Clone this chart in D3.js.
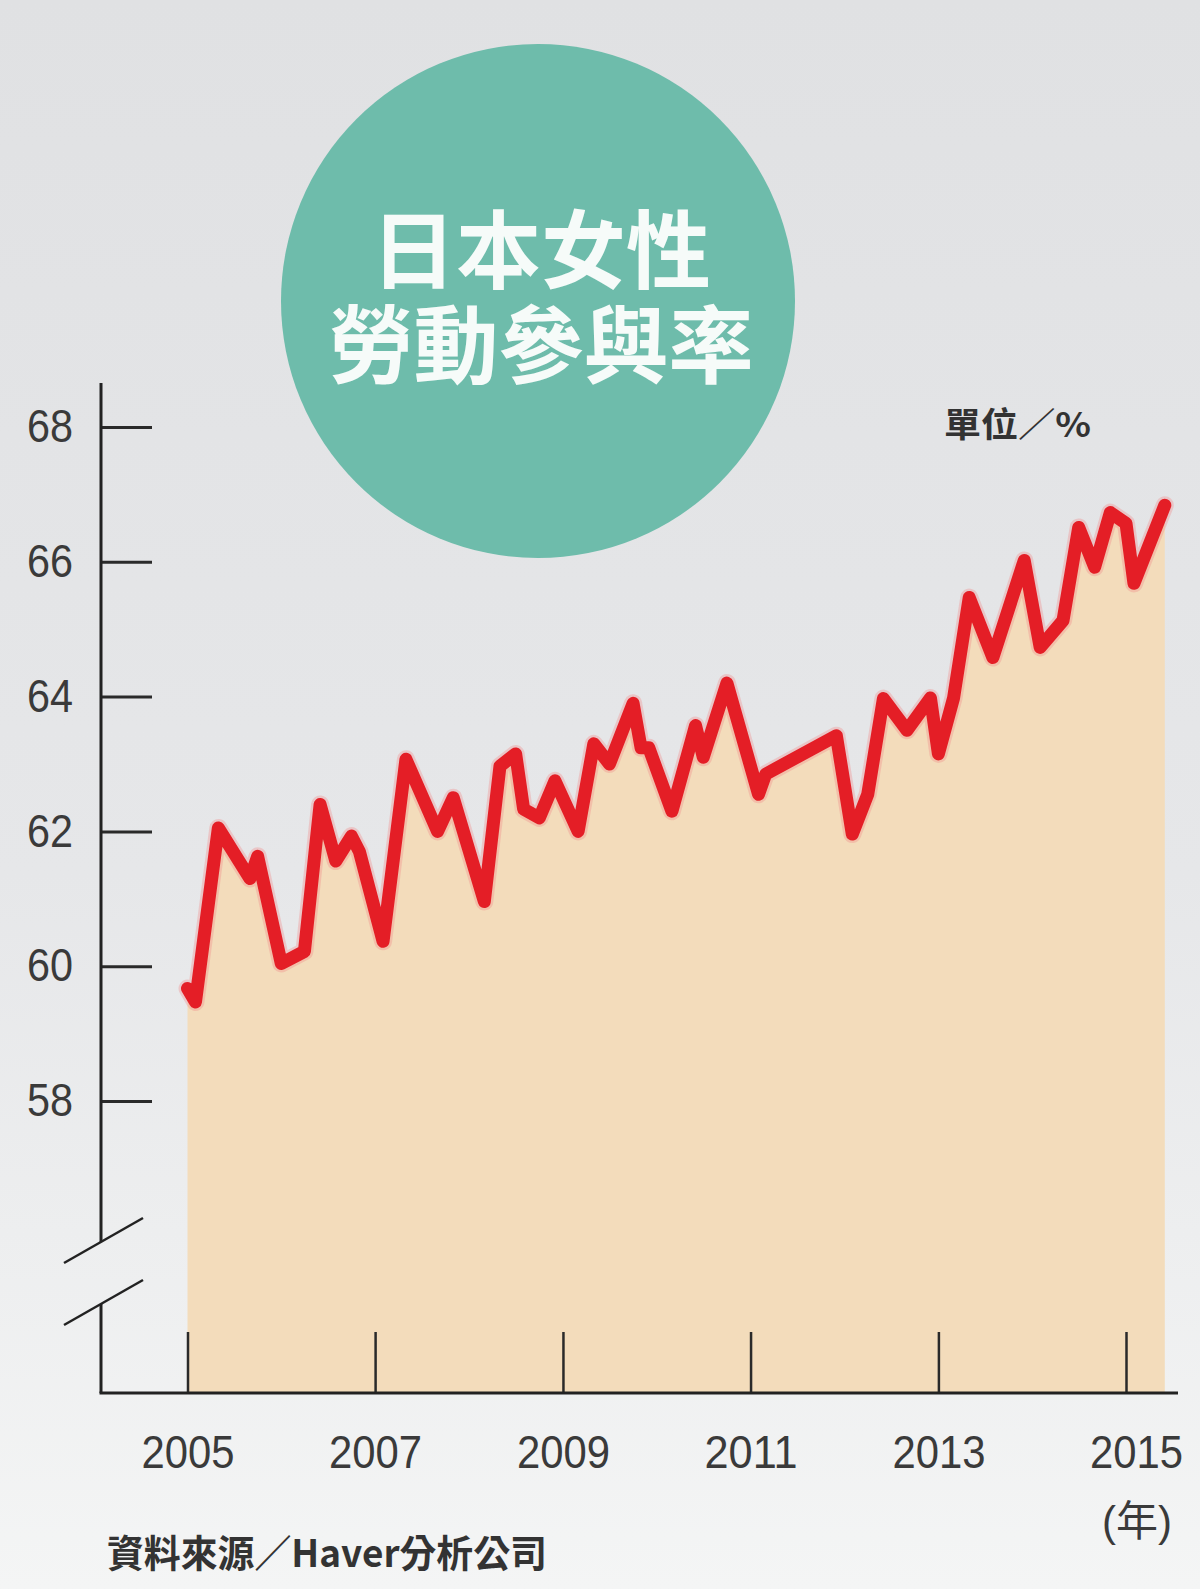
<!DOCTYPE html>
<html>
<head>
<meta charset="utf-8">
<script src="https://cdn.jsdelivr.net/npm/d3@7"></script>
<style>
  html, body { margin: 0; padding: 0; }
  body { width: 1200px; height: 1589px; overflow: hidden; }
</style>
</head>
<body>
<svg id="chart"></svg>
<script>
// Japan, female labour participation rate (%)
const months = [
  '2005-01', '2005-02', '2005-05', '2005-09', '2005-10', '2006-01', '2006-04', '2006-06',
  '2006-08', '2006-10', '2006-11', '2007-02', '2007-05', '2007-09', '2007-11', '2008-03',
  '2008-05', '2008-07', '2008-08', '2008-10', '2008-12', '2009-03', '2009-05', '2009-07',
  '2009-10', '2009-11', '2009-12', '2010-03', '2010-06', '2010-07', '2010-10', '2011-02',
  '2011-03', '2011-12', '2012-02', '2012-04', '2012-06', '2012-09', '2012-12', '2013-01',
  '2013-03', '2013-05', '2013-08', '2013-12', '2014-02', '2014-05', '2014-07', '2014-09',
  '2014-11', '2015-01', '2015-02', '2015-06'
];
const rates = [
  59.67, 59.47, 62.05, 61.30, 61.63, 60.04, 60.22, 62.40,
  61.56, 61.93, 61.70, 60.37, 63.07, 62.00, 62.50, 60.96,
  62.97, 63.15, 62.33, 62.20, 62.75, 62.00, 63.30, 63.00,
  63.90, 63.24, 63.24, 62.30, 63.57, 63.10, 64.20, 62.55,
  62.85, 63.42, 61.96, 62.55, 63.97, 63.50, 63.98, 63.15,
  63.98, 65.47, 64.58, 66.02, 64.73, 65.13, 66.51, 65.92,
  66.73, 66.57, 65.68, 66.84
];
const yearTicks = [2005, 2007, 2009, 2011, 2013, 2015];
const rateTicks = [58, 60, 62, 64, 66, 68];
const titleLines = ['日本女性', '勞動參與率'];
const unitLabel = '單位／%';
const yearUnit = '(年)';
const sourceLabel = '資料來源／Haver分析公司';

const W = 1200, H = 1589;
const parseMonth = d3.timeParse('%Y-%m');
const series = months.map((m, i) => ({ date: parseMonth(m), value: rates[i] }));

const svg = d3.select('#chart')
    .attr('width', W)
    .attr('height', H);

const defs = svg.append('defs');
const bg = defs.append('linearGradient')
    .attr('id', 'bg')
    .attr('x1', 0).attr('y1', 0).attr('x2', 0).attr('y2', 1);
bg.append('stop').attr('offset', '0%').attr('stop-color', '#e0e1e3');
bg.append('stop').attr('offset', '55%').attr('stop-color', '#e6e7e9');
bg.append('stop').attr('offset', '100%').attr('stop-color', '#f4f5f5');

svg.append('rect')
    .attr('width', W)
    .attr('height', H)
    .attr('fill', 'url(#bg)');

// scales
const axisX = 101, baseY = 1393;
const x = d3.scaleTime()
    .domain([new Date(2005, 0, 1), new Date(2015, 0, 1)])
    .range([187.5, 1126]);
const y = d3.scaleLinear()
    .domain([58, 68])
    .range([1101, 427]);

// title bubble
svg.append('circle')
    .attr('cx', 538)
    .attr('cy', 301)
    .attr('r', 257)
    .attr('fill', '#6ebcab');

const title = svg.append('text')
    .attr('text-anchor', 'middle')
    .style('font-family', '"Noto Sans CJK TC", "Noto Sans CJK SC", sans-serif')
    .style('font-weight', 700)
    .style('font-size', '85px')
    .style('fill', '#f6fbf9');
title.selectAll('tspan')
    .data(titleLines)
    .join('tspan')
    .attr('x', 541)
    .attr('y', (d, i) => 282 + i * 95)
    .text(d => d);

// area + line
const area = d3.area()
    .x(d => x(d.date))
    .y0(baseY)
    .y1(d => y(d.value));
const line = d3.line()
    .x(d => x(d.date))
    .y(d => y(d.value));

svg.append('path')
    .datum(series)
    .attr('d', area)
    .attr('fill', '#f3dcbb');

svg.append('path')
    .datum(series)
    .attr('d', line)
    .attr('fill', 'none')
    .style('stroke', '#f08a8a')
    .style('stroke-width', 18)
    .style('stroke-opacity', 0.35)
    .attr('stroke-linejoin', 'round')
    .attr('stroke-linecap', 'round');

svg.append('path')
    .datum(series)
    .attr('d', line)
    .attr('fill', 'none')
    .style('stroke', '#e41e26')
    .style('stroke-width', 13)
    .attr('stroke-linejoin', 'round')
    .attr('stroke-linecap', 'round');

// y axis (ticks pointing inward)
const numFont = '"Liberation Sans", Arial, sans-serif';
const gy = svg.append('g')
    .attr('transform', `translate(${axisX},0)`)
    .call(d3.axisLeft(y).tickValues(rateTicks).tickSize(-51).tickPadding(28).tickFormat(d3.format('d')));
gy.select('.domain').remove();
gy.selectAll('.tick line').style('stroke', '#2a2a2a').style('stroke-width', 3);
gy.selectAll('.tick text')
    .attr('textLength', 46)
    .attr('lengthAdjust', 'spacingAndGlyphs')
    .style('font-family', numFont)
    .style('font-size', '46px')
    .style('fill', '#3a3a3a');

// x axis (ticks pointing up)
const gx = svg.append('g')
    .attr('transform', `translate(0,${baseY})`)
    .call(d3.axisBottom(x)
        .tickValues(yearTicks.map(yr => new Date(yr, 0, 1)))
        .tickSize(-61)
        .tickPadding(42)
        .tickFormat(d3.timeFormat('%Y')));
gx.select('.domain').remove();
gx.selectAll('.tick line').style('stroke', '#2a2a2a').style('stroke-width', 2.5);
gx.selectAll('.tick text')
    .attr('textLength', 93)
    .attr('lengthAdjust', 'spacingAndGlyphs')
    .attr('dx', (d, i, n) => i === n.length - 1 ? 10 : 0)
    .style('font-family', numFont)
    .style('font-size', '46px')
    .style('fill', '#3a3a3a');

// axis lines with break marks
const axes = svg.append('g')
    .style('stroke', '#222')
    .style('stroke-width', 3)
    .attr('fill', 'none');
axes.append('line').attr('x1', axisX).attr('y1', 383).attr('x2', axisX).attr('y2', 1242);
axes.append('line').attr('x1', axisX).attr('y1', 1304).attr('x2', axisX).attr('y2', baseY);
axes.append('line').attr('x1', axisX - 1.5).attr('y1', baseY).attr('x2', 1178).attr('y2', baseY);
[1241, 1303].forEach(cy => {
  axes.append('line')
      .style('stroke-width', 2.5)
      .attr('x1', 64).attr('y1', cy + 22)
      .attr('x2', 143).attr('y2', cy - 23);
});

// labels
svg.append('text')
    .attr('x', 944)
    .attr('y', 437)
    .attr('textLength', 147)
    .attr('lengthAdjust', 'spacingAndGlyphs')
    .style('font-family', '"Noto Sans CJK TC", sans-serif')
    .style('font-weight', 700)
    .style('font-size', '34px')
    .style('fill', '#333')
    .text(unitLabel);

svg.append('text')
    .attr('x', 1137)
    .attr('y', 1536)
    .attr('text-anchor', 'middle')
    .style('font-family', '"Liberation Sans", "Noto Sans CJK TC", sans-serif')
    .style('font-size', '42px')
    .style('fill', '#3a3a3a')
    .text(yearUnit);

svg.append('text')
    .attr('x', 107)
    .attr('y', 1567)
    .attr('textLength', 440)
    .attr('lengthAdjust', 'spacingAndGlyphs')
    .style('font-family', '"Noto Sans CJK TC", sans-serif')
    .style('font-weight', 700)
    .style('font-size', '38px')
    .style('fill', '#333')
    .text(sourceLabel);
</script>
</body>
</html>
